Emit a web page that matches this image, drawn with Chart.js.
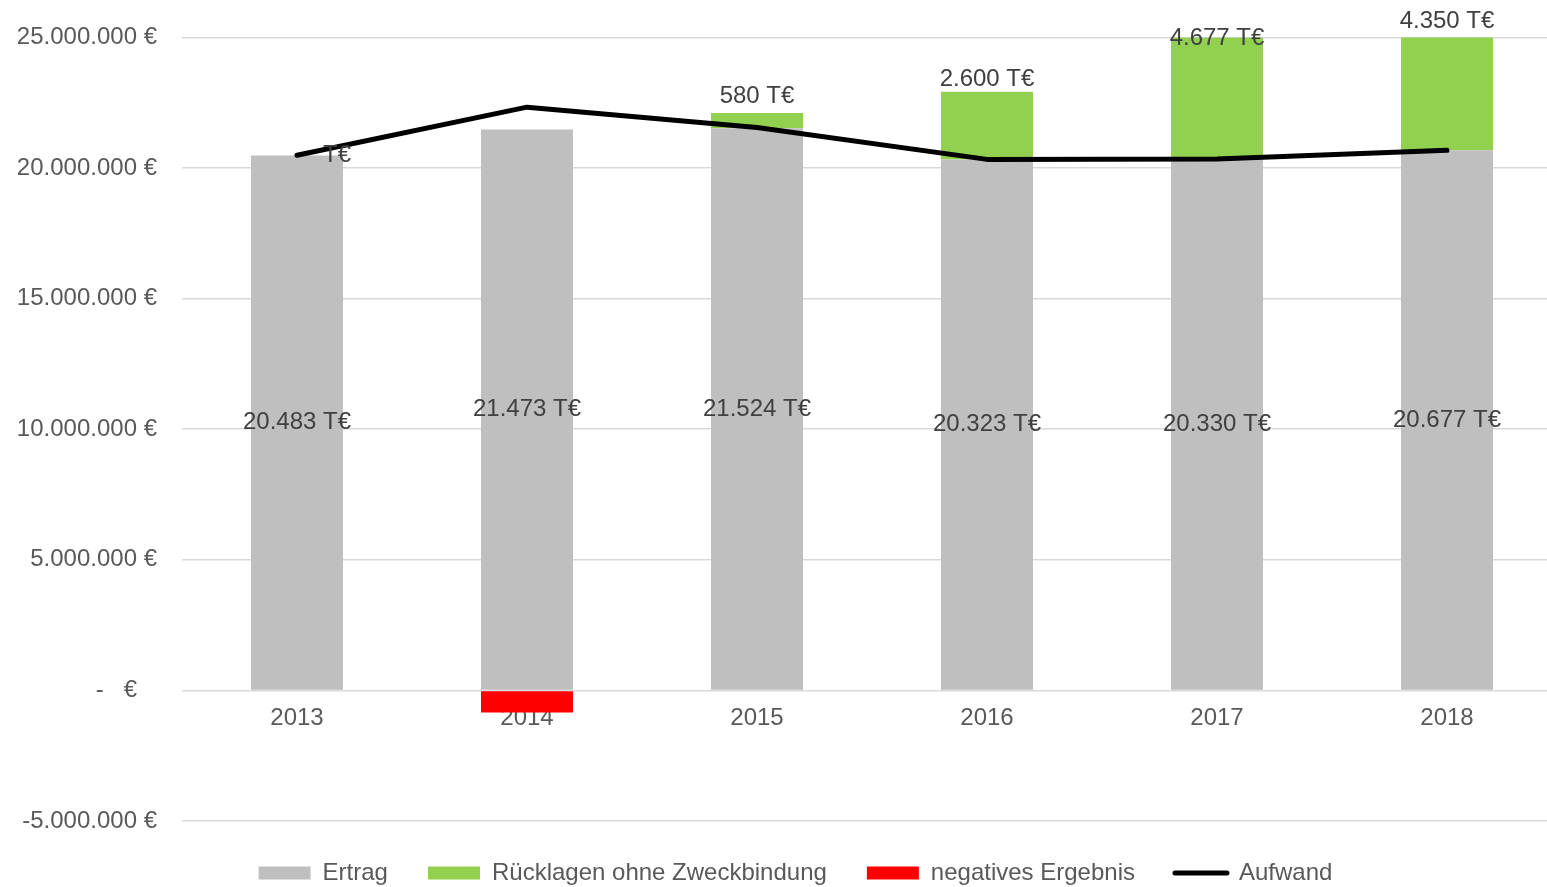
<!DOCTYPE html>
<html><head><meta charset="utf-8">
<script src="https://cdn.jsdelivr.net/npm/chart.js@4/dist/chart.umd.min.js"></script>
<style>html,body{margin:0;padding:0;background:#fff;overflow:hidden}#wrap{width:1547px;height:887px;position:relative}</style>
</head><body><div id="wrap"><canvas id="c"></canvas></div>
<script>
const years = ['2013', '2014', '2015', '2016', '2017', '2018'];
const ertrag = [20483000, 21473000, 21524000, 20323000, 20330000, 20677000];
const ruecklagen = [0, null, 580000, 2600000, 4677000, 4350000];
const negativ = [null, -850000, null, null, null, null];
const aufwand = [20490000, 22330000, 21550000, 20330000, 20340000, 20680000];
const yMin = -5000000, yMax = 25000000, yStep = 5000000;

const FONT = '"Liberation Sans", Arial, Helvetica, sans-serif';
function fmt(n) {
  const neg = n < 0;
  const s = Math.round(Math.abs(n)).toString().replace(/\B(?=(\d{3})+(?!\d))/g, '.');
  return (neg ? '-' : '') + s;
}

const labelPlugin = {
  id: 'barLabels',
  afterLayout(chart, args, opts) {
    // plot area in the reference runs past the right edge of the picture
    const x = chart.scales.x;
    x.right += opts.xExtend; x.width += opts.xExtend;
    x.configure();
    const y = chart.scales.y;
    y.top -= opts.yTopExtend; y.height += opts.yTopExtend;
    y.configure();
    chart.chartArea.top -= opts.yTopExtend;
    chart.chartArea.height += opts.yTopExtend;
    const lg = chart.legend;
    if (lg) { lg.left += opts.legendShift; lg.right += opts.legendShift; }
  },
  afterDatasetsDraw(chart, args, opts) {
    const ctx = chart.ctx;
    ctx.save();
    ctx.font = '24px ' + FONT;
    ctx.fillStyle = '#404040';
    ctx.textBaseline = 'middle';
    chart.getDatasetMeta(1).data.forEach((bar, i) => {
      const v = ertrag[i];
      if (v == null) return;
      ctx.textAlign = 'center';
      ctx.fillText(fmt(v / 1000) + ' T€', bar.x, (bar.y + bar.base) / 2);
    });
    chart.getDatasetMeta(2).data.forEach((bar, i) => {
      const v = ruecklagen[i];
      if (v == null) return;
      if (v === 0) {
        ctx.textAlign = 'left';
        ctx.fillText('T€', bar.x + 26, bar.y);
      } else {
        ctx.textAlign = 'center';
        ctx.fillText(fmt(v / 1000) + ' T€', bar.x, bar.y + opts.nudge[i]);
      }
    });
    ctx.restore();
  }
};

new Chart(document.getElementById('c'), {
  data: {
    labels: years,
    datasets: [
      { type: 'line', label: 'Aufwand', data: aufwand, stack: 'line', order: -1,
        borderColor: '#000000', backgroundColor: '#000000', borderWidth: 5,
        pointRadius: 0, tension: 0, borderCapStyle: 'round', borderJoinStyle: 'round' },
      { type: 'bar', label: 'Ertrag', data: ertrag, stack: 'bars', backgroundColor: '#bfbfbf',
        barPercentage: 0.4, categoryPercentage: 1 },
      { type: 'bar', label: 'Rücklagen ohne Zweckbindung', data: ruecklagen, stack: 'bars', backgroundColor: '#92d050',
        barPercentage: 0.4, categoryPercentage: 1 },
      { type: 'bar', label: 'negatives Ergebnis', data: negativ, stack: 'bars', backgroundColor: '#ff0000',
        barPercentage: 0.4, categoryPercentage: 1 }
    ]
  },
  options: {
    responsive: true,
    maintainAspectRatio: false,
    animation: false,
    devicePixelRatio: 1,
    layout: { padding: { left: 0, right: 0, top: 33, bottom: -8 } },
    scales: {
      x: {
        stacked: true,
        position: { y: 0 },
        offset: true,
        z: 1,
        grid: { display: false, drawTicks: false },
        border: { display: false },
        ticks: { color: '#595959', font: { family: FONT, size: 24 }, padding: 14 }
      },
      y: {
        stacked: true,
        min: yMin, max: yMax,
        afterFit(s) { s.width = 182; },
        grid: { color: '#d9d9d9', lineWidth: 1.5, drawTicks: false },
        border: { display: false },
        ticks: {
          stepSize: yStep,
          color: '#595959',
          font: { family: FONT, size: 24 },
          padding: 25,
          callback: v => v === 0 ? '-   €   ' : fmt(v) + ' €'
        }
      }
    },
    plugins: {
      tooltip: { enabled: false },
      barLabels: { nudge: [0, 0, -17, -12, 1, -15], xExtend: 15, yTopExtend: 2, legendShift: 22 },
      legend: {
        position: 'bottom',
        labels: {
          usePointStyle: true,
          pointStyleWidth: 52,
          boxHeight: 13,
          padding: 40,
          color: '#595959',
          font: { family: FONT, size: 24 },
          sort: (a, b) => {
            const ka = a.text === 'Aufwand' ? 99 : a.datasetIndex;
            const kb = b.text === 'Aufwand' ? 99 : b.datasetIndex;
            return ka - kb;
          },
          generateLabels(chart) {
            const items = Chart.defaults.plugins.legend.labels.generateLabels(chart);
            items.forEach(it => {
              const ds = chart.data.datasets[it.datasetIndex];
              if (ds.type === 'line') {
                it.pointStyle = 'line'; it.lineWidth = 5; it.strokeStyle = '#000000'; it.lineCap = 'round';
              } else {
                it.pointStyle = 'rect'; it.lineWidth = 0; it.fillStyle = ds.backgroundColor; it.strokeStyle = ds.backgroundColor;
              }
            });
            return items;
          }
        }
      }
    }
  },
  plugins: [labelPlugin]
});
</script>
</body></html>
